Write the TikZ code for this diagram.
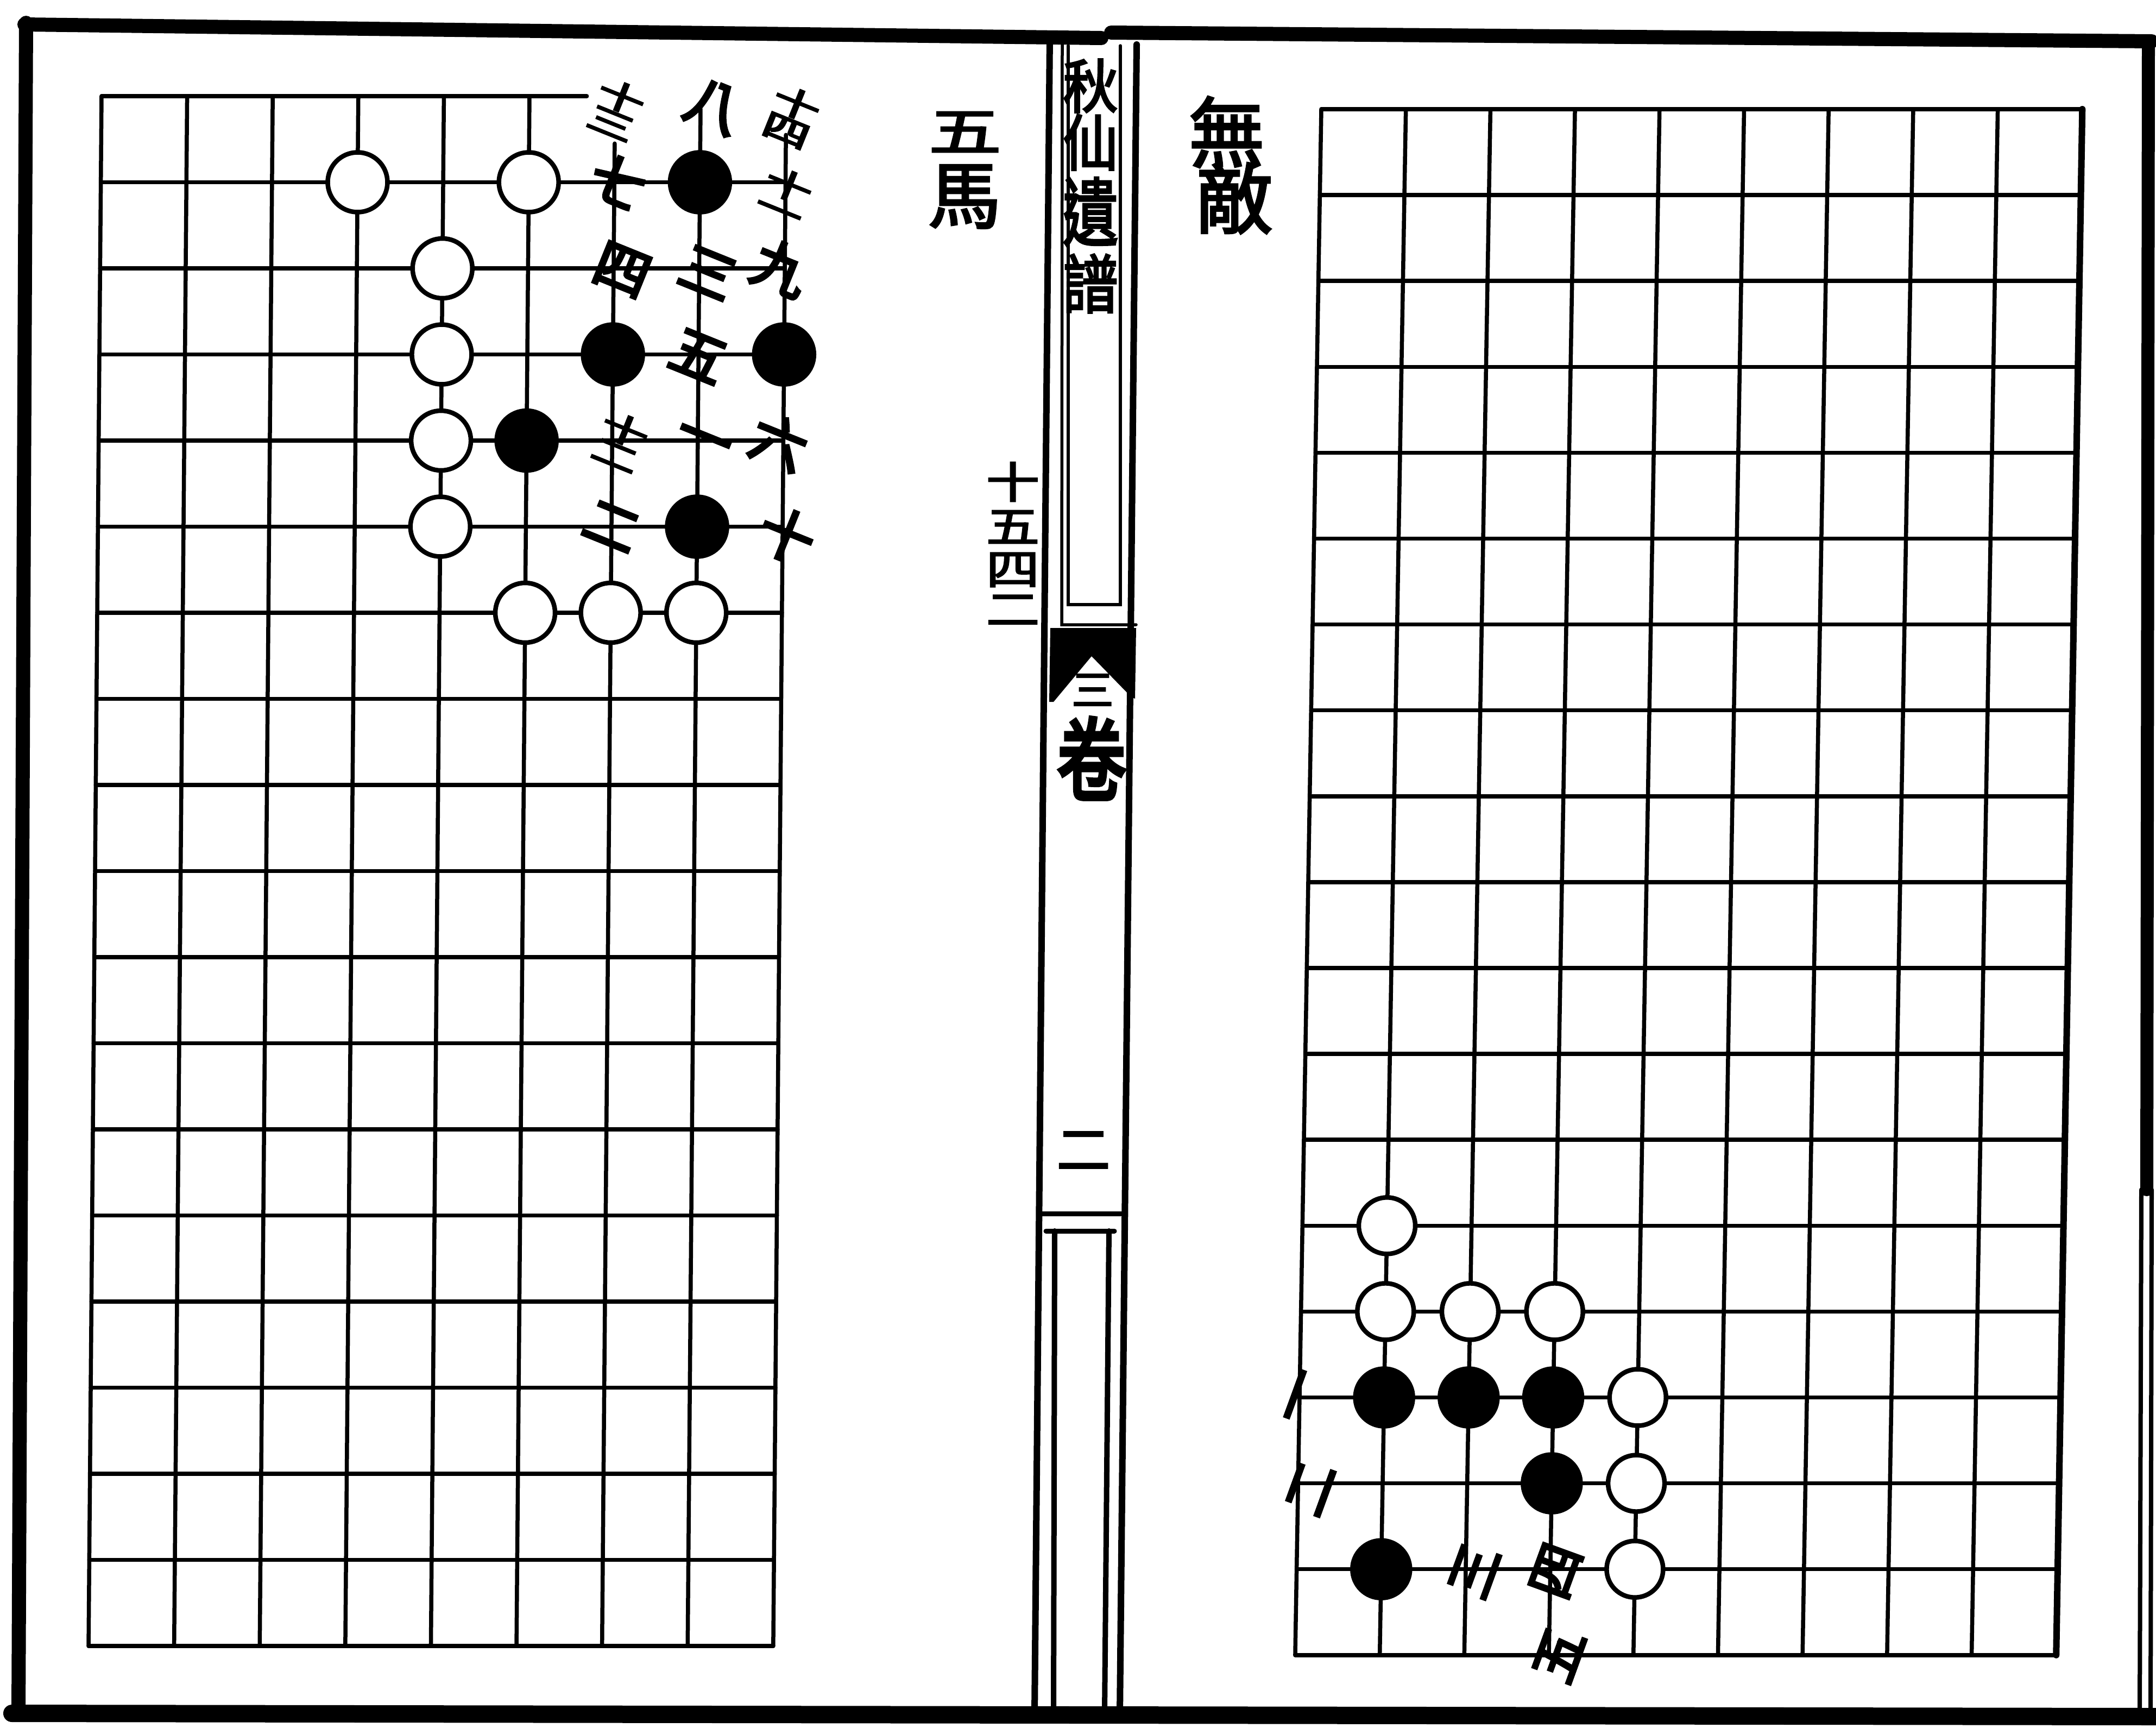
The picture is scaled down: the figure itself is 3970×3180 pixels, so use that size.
\documentclass[tikz,border=0pt]{standalone}
\usepackage{fontspec}
\newfontfamily\cjk[FakeBold=5]{Noto Sans CJK TC}
\newfontfamily\cjkmid[FakeBold=3]{Noto Sans CJK TC}
\newcommand\stk[2]{\scalebox{1}[0.66]{\begin{tabular}{@{}c@{}}#1\\[-4pt]#2\end{tabular}}}
\newcommand\vsc[2]{\scalebox{1}[#1]{#2}}
\begin{document}
\begin{tikzpicture}[x=0.1mm,y=-0.1mm,line cap=round]
\tikzset{
  gridline/.style={line width=0.75mm},
  heavy/.style={line width=2.6mm},
  spine/.style={line width=1.2mm},
  thin/.style={line width=0.55mm},
  wstone/.style={circle,draw,line width=0.85mm,fill=white,minimum size=11mm,inner sep=0pt},
  bstone/.style={circle,draw,line width=0.85mm,fill=black,minimum size=11mm,inner sep=0pt},
  rwstone/.style={wstone,minimum size=10.4mm},
  rbstone/.style={bstone,minimum size=10.6mm},
  lab/.style={font=\cjk\fontsize{29}{29}\selectfont,inner sep=0pt,rotate=-22},
  slab/.style={font=\cjk\fontsize{25}{25}\selectfont,inner sep=0pt,rotate=-22},
  rlab/.style={font=\cjk\fontsize{28}{28}\selectfont,inner sep=0pt,rotate=70},
  bigtxt/.style={font=\cjkmid\fontsize{38}{38}\selectfont,inner sep=0pt},
  titletxt/.style={font=\cjkmid\fontsize{29}{29}\selectfont,inner sep=0pt},
}
\useasboundingbox (0,0) rectangle (3970,3180);
\fill[white] (0,0) rectangle (3970,3180);

% ---------- page frame ----------
\draw[heavy] (45,45) -- (2028,70);
\draw[heavy] (2046,60) -- (3962,76);
\draw[heavy] (48,42) -- (34,3156);
\draw[line width=3.2mm] (22,3154) -- (3970,3160);
\draw[line width=2.4mm] (3956,76) -- (3953,2190);
\draw[line width=0.8mm] (3943,2190) -- (3940,3150);
\draw[line width=0.8mm] (3962,2190) -- (3960,3150);

% ---------- spine ----------
\draw[spine] (1933,70) -- (1905,3155);
\draw[spine] (2093,82) -- (2062,3155);
\draw[thin] (1956,82) -- (1955,1150) -- (2092,1150);
\draw[thin] (1967,84) -- (1967,1113) -- (2063,1113) -- (2063,84);
\fill (1934,1156) -- (2092,1156) -- (2090,1286) -- (2084,1284) -- (2010,1208)
      -- (1940,1292) -- (1932,1292) -- cycle;
\node[titletxt] (t1) at (2008,158) {\vsc{1.05}{秋}};
\node[titletxt] (t2) at (2008,262) {\vsc{1.1}{仙}};
\node[titletxt] (t3) at (2008,390) {\vsc{1.35}{遺}};
\node[titletxt] (t4) at (2008,522) {\vsc{1.15}{譜}};
\node[font=\cjkmid\fontsize{22}{22}\selectfont,inner sep=0pt] (f1) at (2012,1270) {三};
\node[font=\cjk\fontsize{36}{36}\selectfont,inner sep=0pt] (f2) at (2010,1396) {\vsc{1.3}{卷}};
\node[font=\cjkmid\fontsize{28}{28}\selectfont,inner sep=0pt] (pg) at (1995,2118) {二};
\draw[line width=0.9mm] (1916,2234) -- (2066,2234);
\draw[line width=0.9mm] (1926,2266) -- (2052,2266);
\draw[line width=1.0mm] (1940,3150) -- (1942,2266);
\draw[line width=1.0mm] (2042,2266) -- (2034,3150);

% ---------- page titles ----------
\node[bigtxt] (a1) at (1777,243) {\vsc{0.72}{五}};
\node[bigtxt] (a2) at (1776,362) {馬};
\node[font=\cjkmid\fontsize{28}{28}\selectfont,inner sep=0pt] (n1) at (1865,887) {\vsc{0.8}{十}};
\node[font=\cjkmid\fontsize{28}{28}\selectfont,inner sep=0pt] (n2) at (1865,970) {\vsc{0.8}{五}};
\node[font=\cjkmid\fontsize{28}{28}\selectfont,inner sep=0pt] (n3) at (1865,1049) {\vsc{0.8}{四}};
\node[font=\cjkmid\fontsize{28}{28}\selectfont,inner sep=0pt] (n4) at (1865,1123) {\vsc{0.8}{二}};
\node[font=\cjkmid\fontsize{40}{40}\selectfont,inner sep=0pt] (b1) at (2259,243) {無};
\node[font=\cjkmid\fontsize{40}{40}\selectfont,inner sep=0pt] (b2) at (2273,365) {敵};

% ---------- left board ----------
\begin{scope}[shift={(187,177)},x={(15.76mm,0mm)},y={(-0.133mm,-15.85mm)}]
  \foreach \j in {1,...,18} \draw[gridline] (0,\j) -- (8,\j);
  \draw[gridline] (0,0) -- (5.67,0);
  \foreach \i in {0,...,5} \draw[gridline] (\i,0) -- (\i,18);
  \draw[gridline] (6,0.55) -- (6,18);
  \draw[gridline] (7,0.15) -- (7,18);
  \draw[gridline] (8,0.45) -- (8,18);
  % white stones
  \node[wstone] (lw31) at (3,1) {};
  \node[wstone] (lw51) at (5,1) {};
  \node[wstone] (lw42) at (4,2) {};
  \node[wstone] (lw43) at (4,3) {};
  \node[wstone] (lw44) at (4,4) {};
  \node[wstone] (lw45) at (4,5) {};
  \node[wstone] (lw56) at (5,6) {};
  \node[wstone] (lw66) at (6,6) {};
  \node[wstone] (lw76) at (7,6) {};
  % black stones
  \node[bstone] (lb71) at (7,1) {};
  \node[bstone] (lb63) at (6,3) {};
  \node[bstone] (lb83) at (8,3) {};
  \node[bstone] (lb54) at (5,4) {};
  \node[bstone] (lb75) at (7,5) {};
  % move numbers
  \node[lab] (m1) at (7.05,4.05) {一};
  \node[lab] (m2) at (6,5.0) {二};
  \node[lab] (m3) at (7.1,2.05) {三};
  \node[lab] (m4) at (6.1,2.02) {四};
  \node[lab] (m5) at (7,3.02) {五};
  \node[lab] (m6) at (7.95,4.02) {六};
  \node[lab] (m7) at (6.05,0.99) {七};
  \node[lab] (m8) at (7.15,0.12) {八};
  \node[lab] (m9) at (7.95,2) {九};
  \node[lab] (m10) at (8.05,5.1) {十};
  \node[slab] (m11) at (7.97,1.22) {\stk{十}{一}};
  \node[slab] (m12) at (6.08,4.06) {\stk{十}{二}};
  \node[slab] (m13) at (6,0.2) {\stk{十}{三}};
  \node[slab] (m14) at (8.05,0.28) {\stk{十}{四}};
\end{scope}

% ---------- right board ----------
\begin{scope}[shift={(2433,201)},x={(15.57mm,0mm)},y={(-0.267mm,-15.81mm)}]
  \foreach \j in {0,...,18} \draw[gridline] (0,\j) -- (9,\j);
  \foreach \i in {0,...,8} \draw[gridline] (\i,0) -- (\i,18);
  \draw[line width=1.2mm] (9,0) -- (9,18);
  % white stones
  \node[rwstone] (rw113) at (1,13) {};
  \node[rwstone] (rw114) at (1,14) {};
  \node[rwstone] (rw214) at (2,14) {};
  \node[rwstone] (rw314) at (3,14) {};
  \node[rwstone] (rw415) at (4,15) {};
  \node[rwstone] (rw416) at (4,16) {};
  \node[rwstone] (rw417) at (4,17) {};
  % black stones
  \node[rbstone] (rb115) at (1,15) {};
  \node[rbstone] (rb215) at (2,15) {};
  \node[rbstone] (rb315) at (3,15) {};
  \node[rbstone] (rb316) at (3,16) {};
  \node[rbstone] (rb117) at (1,17) {};
  % move numbers
  \node[rlab] (r1) at (0.05,15) {一};
  \node[rlab] (r2) at (0.15,16.06) {二};
  \node[rlab] (r3) at (2.1,17.02) {三};
  \node[rlab] (r4) at (3.07,17.02) {四};
  \node[rlab] (r5) at (3.12,18) {五};
\end{scope}
\end{tikzpicture}
\end{document}
